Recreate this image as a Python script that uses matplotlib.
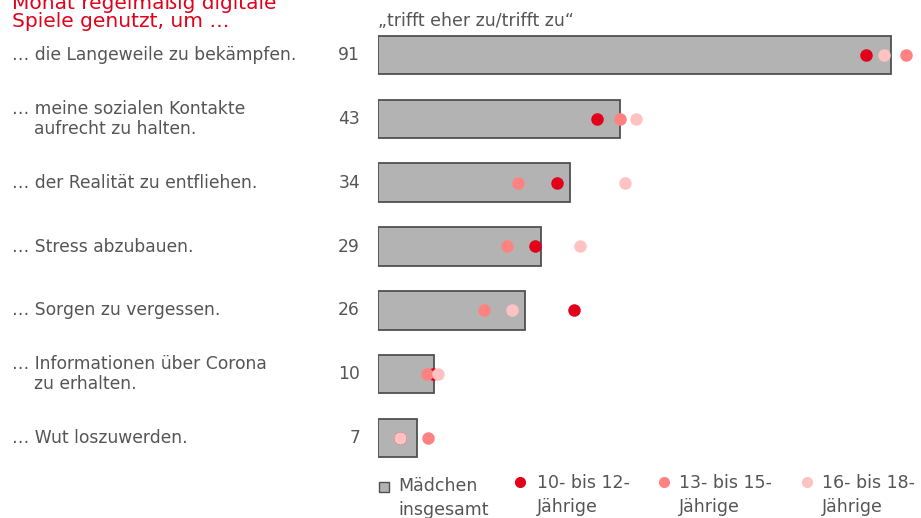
import matplotlib.pyplot as plt
from matplotlib.lines import Line2D
from matplotlib.transforms import blended_transform_factory

# Data
labels = [
    "… die Langeweile zu bekämpfen.",
    "… meine sozialen Kontakte\n    aufrecht zu halten.",
    "… der Realität zu entfliehen.",
    "… Stress abzubauen.",
    "… Sorgen zu vergessen.",
    "… Informationen über Corona\n    zu erhalten.",
    "… Wut loszuwerden.",
]
maedchen = [91, 43, 34, 29, 26, 10, 7]
age_10_12 = [86.6, 38.9, 31.8, 27.9, 34.8, 9.8, 3.9]
age_13_15 = [93.7, 42.9, 24.8, 22.9, 18.8, 8.7, 8.9]
age_16_18 = [89.8, 45.8, 43.8, 35.8, 23.8, 10.6, 3.9]

RED = "#e2001a"
SALMON = "#ff8282"
PINK = "#ffc2c2"
GREY_TXT = "#555555"
W, H = 921, 518

fig = plt.figure(figsize=(W / 100, H / 100), dpi=100)
# axes placed so the bar area starts at x=378 px
ax = fig.add_axes([378 / W, 1 - 470 / H, (W - 378) / W, (470 - 23) / H])
ax.set_xlim(0, (W - 378) / 5.637)
ax.set_ylim(len(labels) - 0.5, -0.5)
ax.axis("off")

ypos = list(range(len(labels)))
ax.barh(ypos, maedchen, height=0.6, color="#b3b3b3", edgecolor="#505050", linewidth=1.3)

ax.plot(age_10_12, ypos, "o", color=RED, ms=8, ls="none", clip_on=False)
ax.plot(age_13_15, ypos, "o", color=SALMON, ms=8, ls="none", clip_on=False)
ax.plot(age_16_18, ypos, "o", color=PINK, ms=8, ls="none", clip_on=False)

tr = blended_transform_factory(fig.transFigure, ax.transData)
for y, lab, val in zip(ypos, labels, maedchen):
    ax.text(12 / W, y, lab, transform=tr, ha="left", va="center",
            fontsize=12.3, color=GREY_TXT, linespacing=1.15)
    ax.text(360 / W, y, str(val), transform=tr, ha="right", va="center",
            fontsize=12.3, color=GREY_TXT)

# title (cut off at the top in the original)
fig.text(12 / W, 1 - 27 / H, "Monat regelmäßig digitale\nSpiele genutzt, um …",
         ha="left", va="baseline", fontsize=14.5, color=RED, linespacing=0.95)
fig.text(378 / W, 1 - 21 / H, "„trifft eher zu/trifft zu“", ha="left", va="center",
         fontsize=12.5, color=GREY_TXT)

# legend drawn by hand
legend_items = [
    ("s", "#b3b3b3", "Mädchen\ninsgesamt", 384, 398),
    ("o", RED, "10- bis 12-\nJährige", 520, 537),
    ("o", SALMON, "13- bis 15-\nJährige", 664, 679),
    ("o", PINK, "16- bis 18-\nJährige", 807, 822),
]
for marker, col, text, mx, tx in legend_items:
    ms = 6.5 if marker == "s" else 7
    mec = "#505050" if marker == "s" else col
    my = 487 if marker == "s" else 482
    fig.add_artist(Line2D([mx / W], [1 - my / H], marker=marker, color=col, ms=ms,
                          mec=mec, mew=1, ls="none", transform=fig.transFigure))
    ty = 477 if marker == "s" else 474
    fig.text(tx / W, 1 - ty / H, text, ha="left", va="top", fontsize=12.5,
             color=GREY_TXT, linespacing=1.4)

fig.savefig("out.png", dpi=100)
